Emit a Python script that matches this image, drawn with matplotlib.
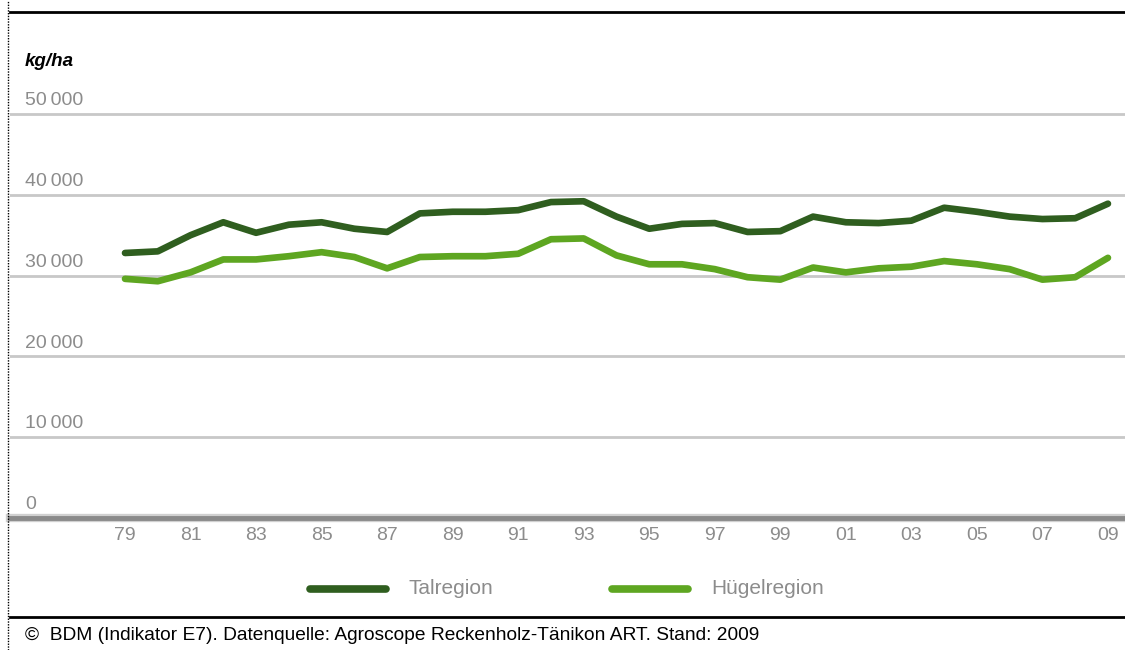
import matplotlib.pyplot as plt
from matplotlib.lines import Line2D

plt.rcParams['font.family'] = ['Liberation Sans', 'DejaVu Sans']

years = list(range(1979, 2010))
tal = [32800, 33000, 35000, 36600, 35300, 36300, 36600, 35800, 35400, 37700,
       37900, 37900, 38100, 39100, 39200, 37300, 35800, 36400, 36500, 35400,
       35500, 37300, 36600, 36500, 36800, 38400, 37900, 37300, 37000, 37100,
       38900]
huegel = [29600, 29300, 30400, 32000, 32000, 32400, 32900, 32300, 30900, 32300,
          32400, 32400, 32700, 34500, 34600, 32500, 31400, 31400, 30800, 29800,
          29500, 31000, 30400, 30900, 31100, 31800, 31400, 30800, 29500, 29800,
          32200]
y_ticks = [0, 10000, 20000, 30000, 40000, 50000]
y_labels = ['0', '10\u2009000', '20\u2009000', '30\u2009000', '40\u2009000', '50\u2009000']
x_ticks = list(range(1979, 2010, 2))
x_labels = ['%02d' % (y % 100) for y in x_ticks]

c_tal = '#2f5e1f'
c_hue = '#5ea621'
c_txt = '#8c8c8c'

W, H = 1125, 650
fig = plt.figure(figsize=(W / 100, H / 100), dpi=100)

# axes placed in pixel terms: x 10..1125, y0 at 518, 10000 per 80.8 px
ymax = 55000
top_px = 518 - ymax / 10000 * 80.8
ax = fig.add_axes([10 / W, (H - 518) / H, 1115 / W, (518 - top_px) / H])
ax.set_xlim(1975.49, 2009.52)
ax.set_ylim(0, ymax)
ax.axis('off')

for v, lab in zip(y_ticks, y_labels):
    if v > 0:
        ax.axhline(v, color='#c8c8c8', lw=2, zorder=1)
    ax.text(15 / 1115, v + 600, lab, transform=ax.get_yaxis_transform(),
            ha='left', va='bottom', fontsize=14, color=c_txt)
ax.axhline(0, color='#d0d0d0', lw=6, zorder=2, clip_on=False)
ax.axhline(0, color='#8a8a8a', lw=3.5, zorder=3, clip_on=False)

ax.plot(years, tal, color=c_tal, lw=4.8, solid_joinstyle='round',
        solid_capstyle='round', zorder=4)
ax.plot(years, huegel, color=c_hue, lw=4.8, solid_joinstyle='round',
        solid_capstyle='round', zorder=4)

for x, lab in zip(x_ticks, x_labels):
    ax.text(x, -1100, lab, ha='center', va='top', fontsize=14, color=c_txt)

fig.text(25 / W, 1 - 62 / H, 'kg/ha', fontsize=13.5, fontweight='bold',
         fontstyle='italic', ha='left', va='center')

# legend
ly = 1 - 589 / H
fig.add_artist(Line2D([310 / W, 386 / W], [ly, ly], color=c_tal, lw=5.5,
                      solid_capstyle='round'))
fig.text(408 / W, ly, 'Talregion', fontsize=15, color=c_txt, va='center')
fig.add_artist(Line2D([612 / W, 688 / W], [ly, ly], color=c_hue, lw=5.5,
                      solid_capstyle='round'))
fig.text(711 / W, ly, 'Hügelregion', fontsize=15, color=c_txt, va='center')

# frame lines
fig.add_artist(Line2D([10 / W, 1], [1 - 12 / H, 1 - 12 / H], color='black', lw=2))
fig.add_artist(Line2D([10 / W, 1], [1 - 617 / H, 1 - 617 / H], color='black', lw=2))
fig.add_artist(Line2D([8 / W, 8 / W], [0, 1], color='black', lw=1,
                      linestyle=(0, (1, 1))))

fig.text(25 / W, 1 - 636 / H,
         '©  BDM (Indikator E7). Datenquelle: Agroscope Reckenholz-Tänikon ART. Stand: 2009',
         fontsize=13.8, va='center', ha='left')

fig.savefig('out.png', dpi=100)
